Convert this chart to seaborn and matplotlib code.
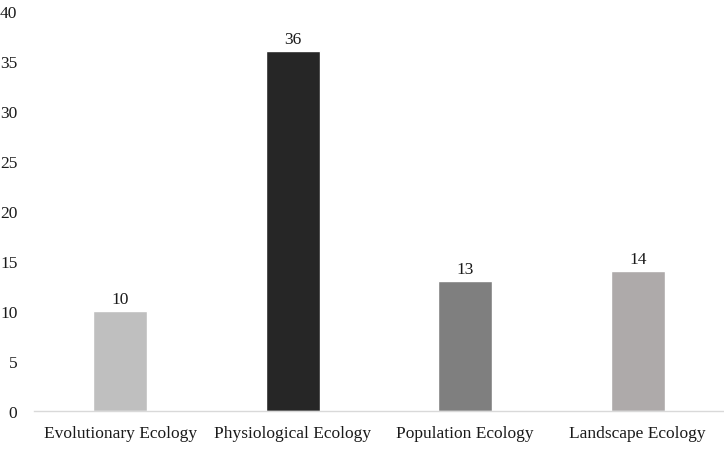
import matplotlib
matplotlib.use('Agg')
import matplotlib.pyplot as plt
import seaborn as sns
import pandas as pd

# Data
categories = ['Evolutionary Ecology', 'Physiological Ecology', 'Population Ecology', 'Landscape Ecology']
counts = [10, 36, 13, 14]
bar_colors = ['#bfbfbf', '#262626', '#7f7f7f', '#aeaaaa']

df = pd.DataFrame({'category': categories, 'count': counts})

sns.set_style('white')
plt.rcParams['font.family'] = ['Liberation Serif', 'DejaVu Serif']

fig = plt.figure(figsize=(7.24, 4.56), dpi=100)
ax = fig.add_axes([0.047, 0.0965, 0.953, 0.877])

sns.barplot(data=df, x='category', y='count', hue='category', palette=bar_colors,
            width=0.315, legend=False, saturation=1, ax=ax)

# value labels on top of bars
for container in ax.containers:
    ax.bar_label(container, padding=3, fontsize=12.5, color='#1a1a1a')

ax.set_ylim(0, 40)
ax.set_yticks(range(0, 41, 5))
ax.set_xlim(-0.5, 3.5)
ax.set_xlabel('')
ax.set_ylabel('')
ax.tick_params(axis='both', length=0, labelsize=12.5, colors='#1a1a1a')
ax.tick_params(axis='x', pad=10)
ax.tick_params(axis='y', pad=12)

sns.despine(left=True, top=True, right=True)
ax.spines['bottom'].set_color('#d9d9d9')
ax.spines['bottom'].set_linewidth(1)

fig.savefig('out.png', dpi=100)
